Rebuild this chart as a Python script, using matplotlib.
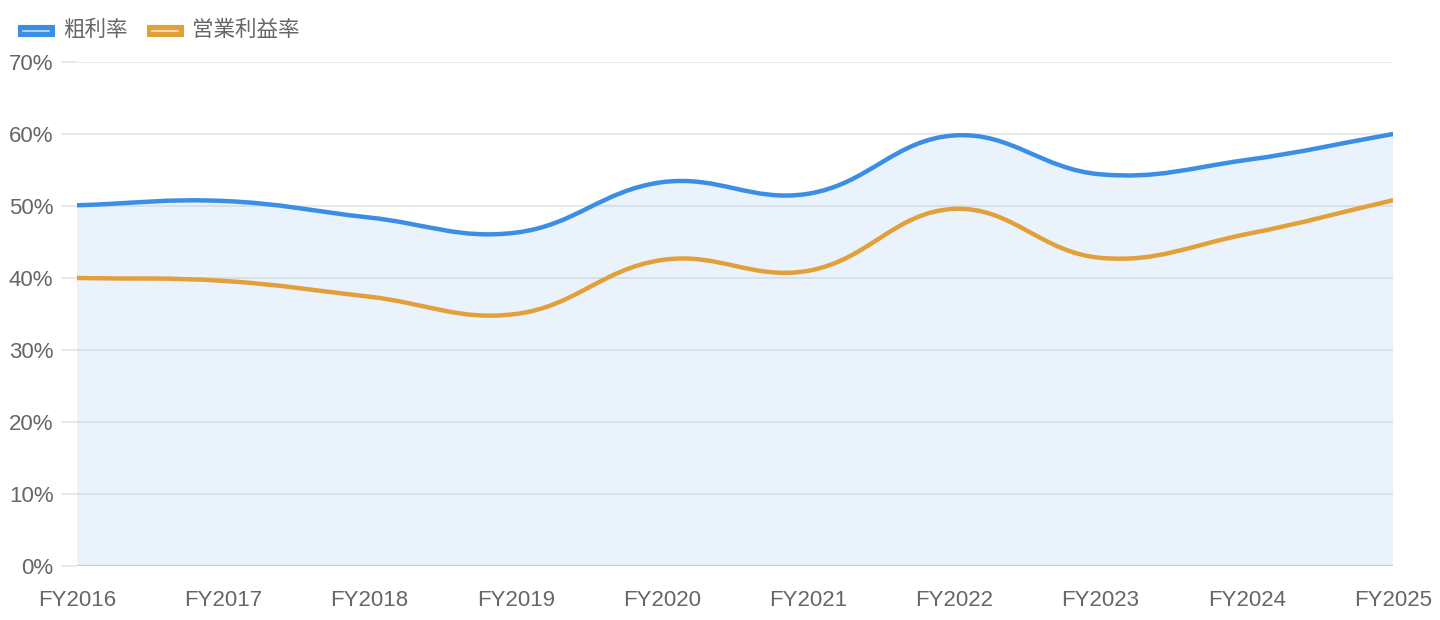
import numpy as np
import matplotlib
matplotlib.use("Agg")
from matplotlib import pyplot as plt
from matplotlib.path import Path
from matplotlib.patches import PathPatch, Rectangle

plt.rcParams['font.family'] = ['Liberation Sans', 'Noto Sans CJK JP', 'DejaVu Sans']

years = ["FY2016", "FY2017", "FY2018", "FY2019", "FY2020",
         "FY2021", "FY2022", "FY2023", "FY2024", "FY2025"]
gross_margin = [50.1, 50.7, 48.4, 46.3, 53.3, 51.7, 59.8, 54.4, 56.4, 60.0]
op_margin = [40.0, 39.6, 37.4, 35.0, 42.5, 41.0, 49.6, 42.8, 46.1, 50.8]
series_names = ["粗利率", "営業利益率"]

BLUE = "#3a8ee6"
ORANGE = "#e3a03a"
TEXT = "#666666"
GRID = "#e5e5e5"
TENSION = 0.4
FS = 16


def bezier_path(ax, xs, ys):
    # chart.js style spline, control points worked out in pixel space
    pts = ax.transData.transform(np.column_stack([xs, ys]))
    n = len(pts)
    verts = [pts[0]]
    codes = [Path.MOVETO]
    ctrl = []
    for i in range(n):
        p0 = pts[i - 1] if i > 0 else pts[i]
        p1 = pts[i]
        p2 = pts[i + 1] if i < n - 1 else pts[i]
        d01 = np.hypot(*(p1 - p0))
        d12 = np.hypot(*(p2 - p1))
        tot = d01 + d12
        s01 = d01 / tot if tot else 0
        s12 = d12 / tot if tot else 0
        ctrl.append((p1 - TENSION * s01 * (p2 - p0), p1 + TENSION * s12 * (p2 - p0)))
    for i in range(1, n):
        verts += [ctrl[i - 1][1], ctrl[i][0], pts[i]]
        codes += [Path.CURVE4] * 3
    verts = ax.transData.inverted().transform(np.array(verts))
    return verts, codes


fig = plt.figure(figsize=(14.4, 6.2), dpi=100)
ax = fig.add_axes([77 / 1440, 54 / 620, 1316 / 1440, 504 / 620])
x = np.arange(len(years))
ax.set_xlim(0, len(years) - 1)
ax.set_ylim(0, 70)

# grid first so the fill sits on top of it
for v in range(10, 80, 10):
    ax.axhline(v, color=GRID, lw=1.2, zorder=0)
ax.axhline(0, color="#c8c8c8", lw=1.5, zorder=4)

verts, codes = bezier_path(ax, x, gross_margin)
fill_verts = np.vstack([verts, [[x[-1], 0], [x[0], 0], verts[0]]])
fill_codes = codes + [Path.LINETO, Path.LINETO, Path.CLOSEPOLY]
ax.add_patch(PathPatch(Path(fill_verts, fill_codes), facecolor=BLUE, alpha=0.1,
                       edgecolor="none", zorder=1))
ax.add_patch(PathPatch(Path(verts, codes), facecolor="none", edgecolor=BLUE,
                       lw=3.2, zorder=3, capstyle="round"))

verts, codes = bezier_path(ax, x, op_margin)
ax.add_patch(PathPatch(Path(verts, codes), facecolor="none", edgecolor=ORANGE,
                       lw=3.2, zorder=3, capstyle="round"))

ax.set_yticks(range(0, 80, 10))
ax.set_yticklabels([f"{v}%" for v in range(0, 80, 10)])
ax.set_xticks(x)
ax.set_xticklabels(years)
ax.tick_params(axis="y", length=11.5, width=1.2, color=GRID, pad=5.5,
               labelsize=FS, labelcolor=TEXT)
ax.tick_params(axis="x", length=0, pad=17.5, labelsize=FS, labelcolor=TEXT)
for s in ax.spines.values():
    s.set_visible(False)

# legend drawn by hand, chart.js style
leg_items = [(series_names[0], BLUE, 18, 63), (series_names[1], ORANGE, 147, 192)]
for name, col, bx, tx in leg_items:
    fig.add_artist(Rectangle((bx / 1440, 1 - 36 / 620), 36 / 1440, 11 / 620,
                             transform=fig.transFigure, facecolor=col,
                             edgecolor=col, lw=0.8))
    fig.add_artist(plt.Line2D([(bx + 5) / 1440, (bx + 31) / 1440],
                              [1 - 30.5 / 620, 1 - 30.5 / 620],
                              transform=fig.transFigure, color="white", lw=1.2,
                              alpha=0.7))
    fig.text(tx / 1440, 1 - 30 / 620, name, fontsize=15.5, color=TEXT,
             va="center", ha="left")

fig.savefig("out.png", dpi=100, facecolor="white")
